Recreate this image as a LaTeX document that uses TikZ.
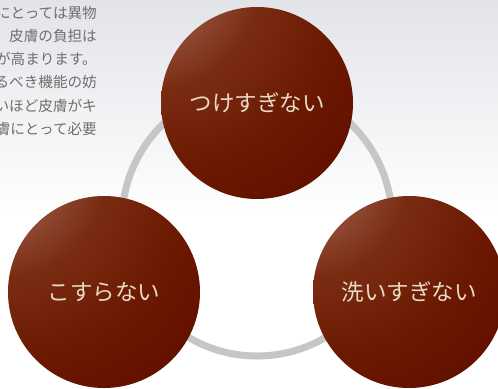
\documentclass[tikz,border=0pt]{standalone}
\usepackage{fontspec}
\newfontfamily\cjk{Noto Sans CJK JP}
\definecolor{hlA}{HTML}{C4978A}
\definecolor{hlB}{HTML}{A0624E}
\definecolor{midC}{HTML}{7A2C12}
\definecolor{midD}{HTML}{6A1800}
\definecolor{midE}{HTML}{621000}
\definecolor{darkE}{HTML}{5A0A00}
\definecolor{ringgray}{HTML}{C5C6C8}
\definecolor{bgtop}{HTML}{E2E4E8}
\definecolor{bodygray}{HTML}{6E6E6E}
\definecolor{ballText}{HTML}{E6DBC8}
\pgfdeclareradialshading{ballshade}{\pgfpoint{-32bp}{36bp}}{%
  color(0bp)=(hlA); color(10bp)=(hlB); color(26bp)=(midC); color(44bp)=(midD); color(58bp)=(midE); color(72bp)=(darkE); color(150bp)=(darkE)}
\tikzset{
  ball/.style={circle, minimum size=192bp, inner sep=0pt, shade, shading=ballshade,
    text=ballText, font=\cjk\fontsize{22.5bp}{26bp}\selectfont},
  bodyline/.style={anchor=east, inner sep=0pt, text=bodygray, font=\cjk\fontsize{14.6bp}{17bp}\selectfont},
}
\begin{document}
\begin{tikzpicture}[x=1bp,y=1bp]
\useasboundingbox (0,0) rectangle (498,388);
\clip (0,0) rectangle (498,388);
\fill[white] (0,0) rectangle (498,388);
\shade[top color=bgtop, bottom color=white] (0,170) rectangle (498,388);
% body text (clipped at left edge)
\node[bodyline] (t1) at (97,375) {にとっては異物};
\node[bodyline] (t2) at (97,352) {皮膚の負担は};
\node[bodyline] (t3) at (97,329) {が高まります。};
\node[bodyline] (t4) at (97,306) {るべき機能の妨};
\node[bodyline] (t5) at (97,282) {いほど皮膚がキ};
\node[bodyline] (t6) at (97,259) {膚にとって必要};
% ring
\node[circle, draw=ringgray, line width=7bp, minimum size=270bp, inner sep=0pt] (ring) at (257,167) {};
% balls
\node[ball] (top) at (257,285) {つけすぎない};
\node[ball] (left) at (104,96) {こすらない};
\node[ball] (right) at (409,96) {洗いすぎない};
\end{tikzpicture}
\end{document}
